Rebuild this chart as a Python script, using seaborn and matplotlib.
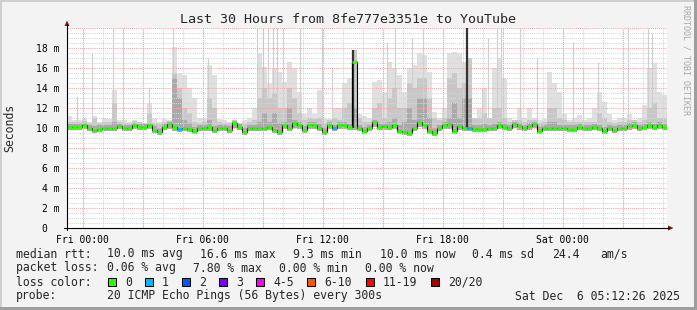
import numpy as np
import matplotlib
matplotlib.use("Agg")
import matplotlib.pyplot as plt
from matplotlib.patches import Rectangle, Polygon
from matplotlib.lines import Line2D
import seaborn as sns

W, H = 697, 310

title = "Last 30 Hours from 8fe777e3351e to YouTube"
bin_hours = 0.25

median = [
    10.1, 10.1, 10.1, 10.3, 9.97, 9.8, 9.9, 10.0, 10.0, 10.0,
    10.25, 9.97, 9.97, 10.3, 10.1, 10.1, 10.3, 9.8, 9.6, 10.1,
    10.4, 10.1, 9.9, 9.97, 9.9, 9.7, 9.97, 9.97, 10.1, 9.8,
    10.0, 10.0, 9.8, 10.5, 10.1, 9.6, 9.97, 9.97, 9.97, 9.97,
    10.1, 9.8, 9.6, 10.3, 10.0, 10.5, 10.3, 9.8, 10.3, 10.3,
    10.0, 9.6, 10.3, 9.97, 10.3, 10.3, 10.1, 16.6, 9.97, 9.7,
    9.97, 10.6, 10.1, 10.2, 10.1, 10.3, 9.7, 9.6, 9.5, 9.97,
    10.6, 10.3, 9.7, 9.5, 9.97, 10.3, 10.4, 9.7, 10.2, 9.97,
    9.97, 9.9, 9.9, 9.9, 10.0, 9.97, 10.3, 10.1, 9.97, 10.45,
    10.2, 9.97, 10.2, 10.45, 9.7, 9.97, 9.97, 9.97, 9.97, 9.97,
    9.9, 9.9, 10.1, 10.0, 9.97, 10.1, 9.97, 9.7, 9.97, 9.8,
    9.97, 10.0, 10.2, 10.3, 9.97, 10.1, 10.3, 10.1, 10.3, 10.1,
]

loss = [0] * 120
loss_one_bins = [22, 53, 80]

smoke_lo = [
    9.8, 9.8, 9.8, 9.9, 9.7, 9.5, 9.6, 9.7, 9.7, 9.7,
    9.9, 9.7, 9.7, 9.9, 9.8, 9.8, 9.9, 9.5, 9.3, 9.8,
    9.9, 9.7, 9.6, 9.7, 9.6, 9.4, 9.7, 9.7, 9.7, 9.5,
    9.7, 9.7, 9.5, 10.0, 9.8, 9.3, 9.7, 9.7, 9.7, 9.7,
    9.8, 9.5, 9.3, 9.9, 9.7, 10.0, 9.9, 9.5, 9.9, 9.9,
    9.7, 9.3, 9.9, 9.7, 9.9, 9.9, 9.8, 9.8, 9.7, 9.4,
    9.7, 10.1, 9.8, 9.8, 9.8, 9.9, 9.4, 9.3, 9.2, 9.7,
    10.1, 9.9, 9.4, 9.2, 9.7, 9.9, 9.9, 9.4, 9.8, 9.7,
    9.7, 9.6, 9.6, 9.6, 9.7, 9.7, 9.9, 9.8, 9.7, 10.0,
    9.8, 9.7, 9.8, 10.0, 9.4, 9.7, 9.7, 9.7, 9.7, 9.7,
    9.6, 9.6, 9.8, 9.7, 9.7, 9.8, 9.7, 9.4, 9.7, 9.5,
    9.7, 9.7, 9.8, 9.9, 9.7, 9.8, 9.9, 9.8, 9.9, 9.8,
]

smoke_hi = [
    11.2, 10.8, 10.8, 11.0, 10.6, 11.2, 10.6, 11.0, 10.9, 13.8,
    10.8, 10.8, 10.6, 10.8, 10.6, 10.5, 12.5, 11.0, 10.6, 10.9,
    10.8, 18.1, 15.5, 15.3, 14.0, 13.0, 11.0, 11.0, 16.3, 15.3,
    10.9, 10.8, 10.6, 10.8, 10.5, 10.8, 11.0, 12.0, 17.5, 16.1,
    14.5, 16.0, 15.6, 14.6, 16.6, 16.0, 13.6, 11.4, 12.0, 11.4,
    13.8, 11.0, 10.9, 12.0, 12.0, 14.5, 15.0, 17.8, 11.4, 11.2,
    11.0, 14.6, 14.8, 13.6, 16.6, 16.0, 15.3, 13.6, 16.0, 16.3,
    17.5, 17.3, 15.6, 11.6, 11.0, 12.0, 17.5, 17.6, 17.5, 16.6,
    16.0, 11.0, 12.0, 14.0, 11.0, 16.0, 17.0, 15.0, 11.0, 10.8,
    12.0, 11.0, 12.0, 11.0, 10.8, 10.9, 15.6, 14.5, 13.6, 11.4,
    10.8, 11.0, 11.3, 10.8, 11.0, 12.0, 13.6, 12.6, 11.4, 10.8,
    11.0, 11.0, 11.4, 10.8, 11.0, 12.3, 16.0, 16.5, 13.6, 13.3,
]

smoke_mid = [
    10.6, 10.6, 10.6, 10.7, 10.5, 11.0, 10.5, 10.6, 10.6, 12.5,
    10.6, 10.5, 10.5, 10.7, 10.6, 10.5, 11.5, 10.5, 10.4, 10.6,
    10.7, 15.5, 14.0, 12.0, 11.5, 10.6, 10.5, 10.6, 13.0, 12.0,
    10.6, 10.5, 10.5, 10.8, 10.5, 10.4, 10.6, 10.8, 13.0, 14.0,
    13.0, 13.5, 12.0, 12.0, 14.0, 13.0, 11.5, 10.8, 11.0, 10.9,
    11.0, 10.5, 10.8, 11.0, 10.8, 12.0, 12.5, 17.8, 11.0, 10.6,
    10.6, 12.0, 12.5, 11.0, 13.0, 14.0, 12.0, 12.0, 14.5, 14.0,
    15.0, 15.0, 13.0, 11.0, 10.8, 11.0, 15.0, 15.5, 14.0, 14.5,
    17.0, 11.0, 11.0, 11.5, 11.0, 12.0, 12.0, 11.0, 10.6, 10.8,
    10.8, 10.6, 10.8, 10.8, 10.5, 10.6, 12.0, 12.0, 11.0, 10.8,
    10.6, 10.6, 10.6, 10.6, 10.6, 10.6, 11.5, 11.0, 10.6, 10.5,
    10.6, 10.6, 10.8, 10.8, 10.6, 10.8, 12.0, 12.5, 11.0, 11.0,
]

smoke_dark = [
    10.4, 10.4, 10.4, 10.5, 10.3, 10.2, 10.3, 10.3, 10.3, 10.6,
    10.4, 10.3, 10.3, 10.5, 10.4, 10.4, 10.5, 10.2, 10.0, 10.4,
    10.6, 15.0, 13.0, 10.8, 10.5, 10.1, 10.3, 10.3, 10.8, 10.2,
    10.3, 10.3, 10.2, 10.7, 10.4, 10.0, 10.3, 10.3, 10.6, 11.5,
    10.6, 11.5, 10.5, 10.6, 12.0, 10.8, 10.6, 10.2, 10.6, 10.6,
    10.4, 10.0, 10.6, 10.3, 10.6, 10.6, 10.4, 12.0, 10.3, 10.1,
    10.3, 10.8, 10.4, 10.5, 10.6, 11.0, 10.3, 10.6, 12.0, 10.8,
    13.0, 13.0, 11.0, 10.0, 10.3, 10.6, 11.0, 12.5, 11.0, 13.0,
    13.0, 10.3, 10.3, 10.4, 10.3, 10.4, 10.6, 10.4, 10.3, 10.6,
    10.5, 10.3, 10.5, 10.6, 10.1, 10.3, 10.6, 10.6, 10.3, 10.3,
    10.3, 10.3, 10.4, 10.3, 10.3, 10.4, 10.3, 10.1, 10.3, 10.2,
    10.3, 10.3, 10.5, 10.6, 10.3, 10.4, 10.6, 10.4, 10.6, 10.4,
]

spike_hours = [0.48, 1.23, 2.32, 2.82, 4.10, 5.32, 7.07, 9.48, 9.82, 10.07,
               10.32, 10.48, 10.82, 11.65, 12.73, 13.23, 15.98, 16.40, 17.23,
               17.82, 20.73, 21.07, 21.48, 21.70, 22.65, 23.48, 25.32, 25.82,
               26.57, 28.07, 29.07, 29.27]
spike_tops = [13.1, 17.5, 20.0, 20.0, 14.1, 20.0, 17.0, 20.0, 20.0, 20.0,
              20.0, 20.0, 20.0, 20.0, 20.0, 16.0, 18.6, 20.0, 19.0,
              20.0, 14.0, 19.0, 20.0, 20.0, 20.0, 17.0, 18.6, 16.0,
              16.6, 20.0, 20.0, 19.5]
dark_spike_hours = [14.30, 19.98]
dark_spike_tops = [17.8, 20.0]

xtick_hours = [0.7927, 6.7927, 12.7927, 18.7927, 24.7927]
xtick_labels = ["Fri 00:00", "Fri 06:00", "Fri 12:00", "Fri 18:00", "Sat 00:00"]
ytick_values = [0, 2, 4, 6, 8, 10, 12, 14, 16, 18]
ytick_labels = ["0  ", "2 m", "4 m", "6 m", "8 m", "10 m", "12 m", "14 m", "16 m", "18 m"]

loss_labels = ["0", "1", "2", "3", "4-5", "6-10", "11-19", "20/20"]
loss_colors = ["#26ff00", "#00b8ff", "#0059ff", "#7e00ff", "#ff00ea",
               "#ff5500", "#ff0000", "#a10000"]

stats_rtt = ["median rtt:", "10.0 ms avg", "16.6 ms max", "9.3 ms min",
             "10.0 ms now", "0.4 ms sd", "24.4", "am/s"]
stats_rtt_x = [16, 107, 200, 293, 380, 472, 552, 600]
stats_loss = ["packet loss:", "0.06 % avg", "7.80 % max", "0.00 % min", "0.00 % now"]
stats_loss_x = [16, 107, 193, 279, 365]
probe_text = "20 ICMP Echo Pings (56 Bytes) every 300s"
date_text = "Sat Dec  6 05:12:26 2025"

for b in loss_one_bins:
    loss[b] = 1

sns.set_theme(style="white")
mono = "DejaVu Sans Mono"
plt.rcParams["font.family"] = [mono]

bg = "#f3f3f3"
fig = plt.figure(figsize=(W / 100, H / 100), dpi=100, facecolor=bg)


def fx(x):
    return x / W


def fy(y):
    return 1 - y / H


ax = fig.add_axes([fx(67), fy(228), 600 / W, 200 / H])
ax.set_facecolor("white")
ax.set_xlim(0, 30)
ax.set_ylim(0, 20)
for s in ax.spines.values():
    s.set_visible(False)

edges = np.arange(len(median) + 1) * bin_hours


def sv(a):
    return np.append(np.asarray(a, float), a[-1])


ax.fill_between(edges, sv(smoke_lo), sv(smoke_hi), step="post", color="#e0e0e0", lw=0, zorder=1)
ax.vlines(spike_hours, 10, spike_tops, color="#cfcfcf", lw=0.8, zorder=1.1)
ax.fill_between(edges, sv(smoke_lo), sv(smoke_mid), step="post", color="#c8c8c8", lw=0, zorder=1.2)
ax.fill_between(edges, sv(smoke_lo), sv(smoke_dark), step="post", color="#aaaaaa", lw=0, zorder=1.3)

# grid (on top of smoke)
minor_x = np.arange(xtick_hours[0] - 1, 30, 1.0)
major_x = np.arange(xtick_hours[0], 30, 3.0)
for v in np.arange(0.5, 20.01, 0.5):
    if abs(v / 2 - round(v / 2)) > 1e-6:
        ax.axhline(v, color="#d6d6d6", lw=0.75, ls=(0, (1, 1)), zorder=2)
for v in minor_x:
    if v > 0:
        ax.axvline(v, color="#d6d6d6", lw=0.75, ls=(0, (1, 1)), zorder=2)
for v in range(2, 21, 2):
    ax.axhline(v, color="#f0a8a8", lw=0.75, ls=(0, (1, 1)), zorder=2.1)
for v in major_x:
    ax.axvline(v, color="#f0a8a8", lw=0.75, ls=(0, (1, 1)), zorder=2.1)

ax.vlines(dark_spike_hours, 10, dark_spike_tops, color="#333333", lw=1.6, zorder=3)

# median line
sns.lineplot(x=edges, y=sv(median), drawstyle="steps-post", color="black",
             lw=0.8, estimator=None, ax=ax, zorder=4)
ax.hlines(median, edges[:-1], edges[1:], colors=[loss_colors[l] for l in loss],
          lw=1.9, zorder=5)

ax.set_xticks(xtick_hours)
ax.set_xticklabels(xtick_labels)
ax.set_xticks(minor_x[minor_x > 0], minor=True)
ax.set_yticks(ytick_values)
ax.set_yticklabels(ytick_labels)
ax.tick_params(axis="y", which="major", length=3, width=0.75, pad=2.5,
               labelsize=7, colors="black", direction="out")
ax.tick_params(axis="x", which="major", length=2.5, width=0.75, pad=2.5,
               labelsize=7, colors="black", direction="out")
ax.tick_params(axis="x", which="minor", length=2, width=0.75, color="#bbbbbb")
for lab in ax.get_xticklabels() + ax.get_yticklabels():
    lab.set_family(mono)
ax.set_xlabel("")
ax.set_ylabel("")

# axes lines and arrows
fig.add_artist(Line2D([fx(67), fx(67)], [fy(230), fy(24)], color="black", lw=0.8))
fig.add_artist(Line2D([fx(64), fx(669)], [fy(228), fy(228)], color="black", lw=0.8))
fig.add_artist(Polygon([(fx(64.5), fy(26)), (fx(69.5), fy(26)), (fx(67), fy(20.5))],
                       closed=True, color="#8b1010", lw=0))
fig.add_artist(Polygon([(fx(668), fy(225.5)), (fx(668), fy(230.5)), (fx(673.5), fy(228))],
                       closed=True, color="#8b1010", lw=0))

# frame shading
fig.add_artist(Rectangle((0, fy(2)), 1, 2 / H, color="#cfcfcf", lw=0))
fig.add_artist(Rectangle((0, 0), 2 / W, 1, color="#cfcfcf", lw=0))
fig.add_artist(Rectangle((0, 0), 1, 3 / H, color="#9e9e9e", lw=0))
fig.add_artist(Rectangle((fx(694), 0), 3 / W, 1, color="#9e9e9e", lw=0))

# texts
fig.text(fx(348), fy(19.5), title, ha="center", va="center", fontsize=9.6, family=mono)
fig.text(fx(10), fy(128), "Seconds", ha="center", va="center", rotation=90,
         fontsize=8.3, family=mono)
fig.text(fx(686), fy(60), "RRDTOOL / TOBI OETIKER", ha="center", va="center",
         rotation=270, fontsize=6, family=mono, color="#a8a8a8")

fs = 8.3
for t, x in zip(stats_rtt, stats_rtt_x):
    fig.text(fx(x), fy(254), t, ha="left", va="center", fontsize=fs, family=mono)
for t, x in zip(stats_loss, stats_loss_x):
    fig.text(fx(x), fy(268), t, ha="left", va="center", fontsize=fs, family=mono)
fig.text(fx(16), fy(282), "loss color:", ha="left", va="center", fontsize=fs, family=mono)
box_x = [108, 145, 182, 219, 256, 307, 366, 431]
for lbl, col, bx in zip(loss_labels, loss_colors, box_x):
    fig.add_artist(Rectangle((fx(bx), fy(286)), 8 / W, 8 / H, facecolor=col,
                             edgecolor="black", lw=0.75))
    fig.text(fx(bx + 17), fy(282), lbl, ha="left", va="center", fontsize=fs, family=mono)
fig.text(fx(16), fy(296), "probe:", ha="left", va="center", fontsize=fs, family=mono)
fig.text(fx(107), fy(296), probe_text, ha="left", va="center", fontsize=fs, family=mono)
fig.text(fx(680), fy(296), date_text, ha="right", va="center", fontsize=fs, family=mono)

fig.savefig("out.png", dpi=100, facecolor=bg)
